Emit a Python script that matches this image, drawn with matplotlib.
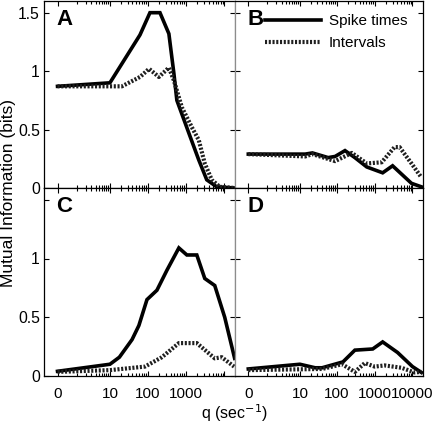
import numpy as np
import matplotlib
matplotlib.use("Agg")
import matplotlib.pyplot as plt
from matplotlib.ticker import FixedLocator, NullFormatter

plt.rcParams['font.family'] = ['Liberation Sans', 'DejaVu Sans']

# cost parameter q (1/s) and mutual information (bits)
qA_spk = [0, 10, 63, 115, 210, 359, 485, 580, 1190, 2160, 3490, 6350, 19000]
A_spk = [0.87, 0.90, 1.31, 1.50, 1.50, 1.32, 0.98, 0.75, 0.47, 0.24, 0.07, 0.01, 0.0]
qA_int = [0, 21, 63, 109, 197, 359, 485, 783, 1425, 2160, 3097, 4710, 7600, 19000]
A_int = [0.87, 0.87, 0.95, 1.02, 0.95, 1.03, 0.92, 0.69, 0.52, 0.41, 0.21, 0.07, 0.01, 0.0]

qB_spk = [0, 14, 22, 58, 89, 163, 298, 616, 1624, 2976, 9410, 17260]
B_spk = [0.29, 0.29, 0.30, 0.26, 0.27, 0.32, 0.26, 0.18, 0.13, 0.19, 0.04, 0.01]
qB_int = [0, 14, 22, 89, 248, 616, 1528, 3360, 4550, 9410, 17260]
B_int = [0.29, 0.27, 0.29, 0.23, 0.30, 0.21, 0.22, 0.35, 0.35, 0.21, 0.09]

qC_spk = [0, 10, 18, 39, 59, 96, 175, 319, 654, 1057, 1919, 3097, 5636, 10250, 18600]
C_spk = [0.04, 0.10, 0.16, 0.31, 0.43, 0.65, 0.73, 0.90, 1.09, 1.03, 1.03, 0.83, 0.77, 0.50, 0.15]
qC_int = [0, 10, 85, 236, 654, 1919, 5636, 8570, 18000]
C_int = [0.035, 0.05, 0.08, 0.16, 0.28, 0.28, 0.15, 0.16, 0.08]

qD_spk = [0, 10, 26, 40, 144, 298, 886, 1624, 4030, 10000, 17260]
D_spk = [0.06, 0.10, 0.07, 0.07, 0.12, 0.22, 0.23, 0.29, 0.20, 0.08, 0.03]
qD_int = [0, 40, 136, 298, 546, 1000, 1833, 5130, 11300, 17260]
D_int = [0.05, 0.06, 0.10, 0.035, 0.11, 0.08, 0.09, 0.07, 0.03, 0.035]

xticks = [0, 10, 100, 1000, 10000]
yticks = [0, 0.5, 1, 1.5]

C0 = 0.45


def fwd(q):
    return np.log10(np.asarray(q, dtype=float) + C0)


def inv(x):
    return 10 ** np.asarray(x, dtype=float) - C0


fig = plt.figure(figsize=(4.33, 4.24), dpi=100)
W, H = 433.0, 424.0
xl, xm, xr = 44 / W, 235 / W, 423 / W
yt, ym, yb = 1 - 1 / H, 1 - 188 / H, 1 - 376 / H

axA = fig.add_axes([xl, ym, xm - xl, yt - ym])
axB = fig.add_axes([xm, ym, xr - xm, yt - ym])
axC = fig.add_axes([xl, yb, xm - xl, ym - yb])
axD = fig.add_axes([xm, yb, xr - xm, ym - yb])

panels = [
    (axA, 'A', qA_spk, A_spk, qA_int, A_int),
    (axB, 'B', qB_spk, B_spk, qB_int, B_int),
    (axC, 'C', qC_spk, C_spk, qC_int, C_int),
    (axD, 'D', qD_spk, D_spk, qD_int, D_int),
]

minor = [m * 10 ** k for k in range(0, 5) for m in range(2, 10)] + [1]

for ax, lab, qs, vs, qi, vi in panels:
    ax.set_xscale('function', functions=(fwd, inv))
    ax.plot(qs, vs, color='black', lw=2.6, solid_joinstyle='miter',
            label='Spike times')
    ax.plot(qi, vi, color='0.12', lw=3.0, linestyle=(0, (0.5, 0.4)),
            label='Intervals')
    ax.set_xlim(-0.25, 19000)
    ax.set_ylim(0, 1.6)
    ax.xaxis.set_major_locator(FixedLocator(xticks))
    ax.xaxis.set_minor_locator(FixedLocator(minor))
    ax.xaxis.set_minor_formatter(NullFormatter())
    ax.set_yticks(yticks)
    ax.tick_params(which='both', direction='in', top=True, right=True,
                   labelsize=11.3, width=0.8)
    ax.tick_params(which='major', length=3.5)
    ax.tick_params(which='minor', length=2)
    ax.tick_params(axis='y', pad=3)
    ax.text(0.065, 0.955, lab, transform=ax.transAxes, fontsize=16,
            fontweight='bold', va='top', ha='left')
    for s in ax.spines.values():
        s.set_linewidth(0.9)

# tick labels
axA.set_xticklabels([])
axB.set_xticklabels([])
axA.set_yticklabels(['0', '0.5', '1', '1.5'])
axC.set_yticklabels(['0', '0.5', '1', ''])
axB.set_yticklabels([])
axD.set_yticklabels([])
axC.set_xticklabels(['0', '10', '100', '1000', ''])
axD.set_xticklabels(['0', '10', '100', '1000', '10000'])
for ax in (axC, axD):
    ax.tick_params(axis='x', pad=8, labelsize=11)

# grey divider between left and right columns
for ax in (axA, axC):
    ax.spines['right'].set_color('0.55')
for ax in (axB, axD):
    ax.spines['left'].set_color('0.55')

axB.legend(loc='upper right', bbox_to_anchor=(0.975, 0.985), frameon=False,
           fontsize=11, handlelength=3.7, handletextpad=0.5,
           labelspacing=0.5, borderaxespad=0.3)

fig.text(0.019, 0.545, 'Mutual Information (bits)', rotation=90,
         ha='center', va='center', fontsize=12.5)
fig.text(xm, 0.025, 'q (sec$^{-1}$)', ha='center', va='center', fontsize=11.5)

fig.savefig('out.png', dpi=100)
